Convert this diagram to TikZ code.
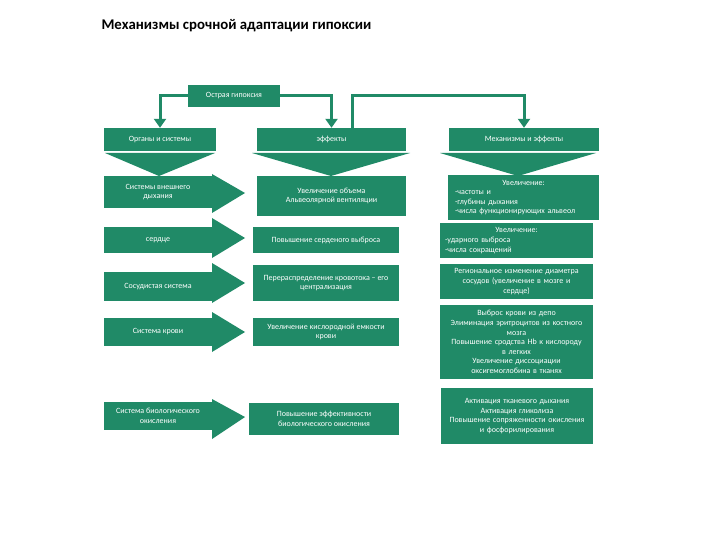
\documentclass[tikz,border=0pt]{standalone}
\usepackage{fontspec}
\setmainfont{Carlito}
\usetikzlibrary{arrows.meta,calc}
\definecolor{gr}{RGB}{32,138,103}
\begin{document}
\begin{tikzpicture}[x=1pt,y=-1pt,
  box/.style={fill=gr, text=white, font=\fontsize{8}{9.6}\selectfont, inner sep=1pt, align=center},
  conn/.style={draw=gr, line width=3pt, -{Triangle[width=12pt,length=9pt]}},
  chev/.style={fill=gr}]
\useasboundingbox (0,0) rectangle (720,540);
\node[anchor=west, font=\bfseries\fontsize{14.8}{17}\selectfont] (title) at (98,26) {Механизмы срочной адаптации гипоксии};
% top
\node[box, minimum width=92pt, minimum height=22pt] (top) at (234,96) {Острая гипоксия};
% headers
\node[box, minimum width=112pt, minimum height=23pt] (org) at (160,139.5) {Органы и системы};
\node[box, minimum width=149pt, minimum height=23pt] (eff) at (331.5,139.5) {эффекты};
\node[box, minimum width=150pt, minimum height=23pt] (mech) at (524,139.5) {Механизмы и эффекты};
% connectors
\coordinate (j) at (352,96);
\draw[conn] (top.west) -| (org.north);
\draw[conn] (top.east) -| (eff.north);
\draw[conn] (eff.north -| j) -- (j) -| (mech.north);
% chevrons
\fill[chev] (105,153) -- (215,153) -- (159,176) -- cycle;
\fill[chev] (252,153) -- (410,153) -- (331,176) -- cycle;
\fill[chev] (440,153) -- (596,153) -- (518,176) -- cycle;
% left column
\node[box, minimum width=108pt, minimum height=32pt] (l1) at (158,192) {Системы внешнего\\дыхания};
\fill[gr] (212,174) -- (245,193) -- (212,213) -- cycle;
\node[box, minimum width=108pt, minimum height=26pt] (l2) at (158,240) {сердце};
\fill[gr] (212,218) -- (245,238) -- (212,258) -- cycle;
\node[box, minimum width=108pt, minimum height=29pt] (l3) at (158,286.5) {Сосудистая система};
\fill[gr] (212,263) -- (245,283) -- (212,303) -- cycle;
\node[box, minimum width=108pt, minimum height=28pt] (l4) at (158,332) {Система крови};
\fill[gr] (212,312) -- (245,332) -- (212,352) -- cycle;
\node[box, minimum width=108pt, minimum height=28pt] (l5) at (158,416) {Система биологического\\окисления};
\fill[gr] (212,399) -- (245,417) -- (212,439) -- cycle;
% middle column
\node[box, minimum width=149pt, minimum height=40pt] (m1) at (331.5,196) {Увеличение объема\\Альвеолярной вентиляции};
\node[box, minimum width=146pt, minimum height=26pt] (m2) at (326,240) {Повышение серденого выброса};
\node[box, minimum width=146pt, minimum height=36pt] (m3) at (326,283) {Перераспределение кровотока – его\\централизация};
\node[box, minimum width=146pt, minimum height=28pt] (m4) at (326,332) {Увеличение кислородной емкости\\крови};
\node[box, minimum width=150pt, minimum height=32pt] (m5) at (324,419) {Повышение эффективности\\биологического окисления};
% right column
\node[box, minimum width=151pt, minimum height=45pt, text width=137pt, align=left] (r1) at (523.5,197.5) {\makebox[\linewidth][c]{Увеличение:}\\-частоты и\\-глубины дыхания\\-числа функционирующих альвеол};
\node[box, minimum width=153pt, minimum height=35pt, text width=143pt, align=left] (r2) at (516.5,240.5) {\makebox[\linewidth][c]{Увеличение:}\\-ударного выброса\\-числа сокращений};
\node[box, minimum width=153pt, minimum height=35pt, text width=150pt] (r3) at (516.5,281.5) {Региональное изменение диаметра\\сосудов (увеличение в мозге и\\сердце)};
\node[box, minimum width=153pt, minimum height=74pt, text width=150pt] (r4) at (516.5,342) {Выброс крови из депо\\Элиминация эритроцитов из костного\\мозга\\Повышение сродства Hb к кислороду\\в легких\\Увеличение диссоциации\\оксигемоглобина в тканях};
\node[box, minimum width=152pt, minimum height=56pt, text width=150pt] (r5) at (517,416) {Активация тканевого дыхания\\Активация гликолиза\\Повышение сопряженности окисления\\и фосфорилирования};
\end{tikzpicture}
\end{document}
